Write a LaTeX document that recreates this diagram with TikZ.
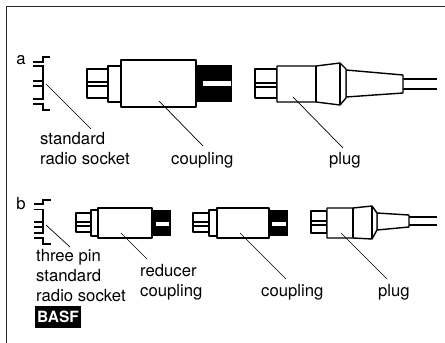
\documentclass[tikz,border=0pt]{standalone}
\usepackage{fontspec}
\setmainfont{TeX Gyre Heros}
\usepackage{xcolor}
\usetikzlibrary{positioning}
\tikzset{
    part/.style={draw=black, line width=1.4pt, fill=white, line join=round},
    wire/.style={draw=black, line width=1.2pt},
    leader/.style={draw=black, line width=0.7pt},
    caption/.style={anchor=base west, inner sep=0pt, font=\fontsize{16.7}{18}\selectfont},
    letter/.style={anchor=base, inner sep=0pt, font=\fontsize{16.7}{18}\selectfont},
}
\begin{document}
\begin{tikzpicture}[x=1pt, y=-1pt]
    \useasboundingbox (0,0) rectangle (445,343);
    \draw[line width=1.3pt, black!85] (6.5,343) -- (6.5,6.5) -- (445,6.5);

    % row a: socket
    \draw[wire] (33,62) -- (43,62) -- (43,57) -- (50,57);
    \draw[wire] (33,66) -- (43,66) -- (43,99) -- (33,99);
    \draw[wire] (33,81) -- (43,81);
    \draw[wire] (33,86) -- (43,86);
    \draw[wire] (33,104) -- (43,104) -- (43,110) -- (50,110);

    % row a: coupling
    \draw[part] (87,69) rectangle (108,98);
    \draw[part] (87,82) rectangle (108,86);
    \draw[part] (108,66) rectangle (121,102);
    \fill[black] (196,65) rectangle (232,102);
    \fill[white] (203,81) rectangle (231,86);
    \draw[part] (121,60) rectangle (196,107);

    % row a: plug
    \draw[part] (255,69) rectangle (277,98);
    \draw[part] (255,83) rectangle (277,87);
    \draw[wire] (403,79) -- (437,79);
    \draw[wire] (403,89) -- (437,89);
    \draw[part] (346,70) -- (403,75) -- (403,93) -- (346,97) -- cycle;
    \draw[part] (277,66) -- (316,66) -- (340,63) -- (346,69) -- (346,98) -- (340,105) -- (316,102) -- (277,102) -- cycle;
    \draw[part] (316,66) -- (316,102);
    \draw[part] (340,63) -- (340,105);

    % row b: socket
    \draw[wire] (34,204) -- (43,204) -- (43,200) -- (51,200);
    \draw[wire] (34,209.5) -- (43,209.5) -- (43,233) -- (34,233);
    \draw[wire] (34,222) -- (43,222);
    \draw[wire] (34,227) -- (43,227);
    \draw[wire] (34,238) -- (43,238) -- (43,244) -- (51,244);

    % row b: reducer coupling
    \draw[part] (76,213) rectangle (91,232);
    \draw[part] (76,222) rectangle (91,226);
    \draw[part] (91,210) rectangle (98,236);
    \fill[black] (152,210) rectangle (171,236);
    \fill[white] (156,222) rectangle (169,226);
    \draw[part] (98,208) rectangle (152,238);

    % row b: coupling
    \draw[part] (193,213) rectangle (209,232);
    \draw[part] (193,222) rectangle (209,226);
    \draw[part] (209,210) rectangle (217,236);
    \fill[black] (269,210) rectangle (288,236);
    \fill[white] (272,222) rectangle (286,226);
    \draw[part] (217,208) rectangle (269,238);

    % row b: plug
    \draw[part] (311,211) rectangle (327,233);
    \draw[part] (311,221) rectangle (327,225);
    \draw[wire] (409,217) -- (437,217);
    \draw[wire] (409,225) -- (437,225);
    \draw[part] (377,213) -- (409,215) -- (409,227) -- (377,230) -- cycle;
    \draw[part] (327,208) -- (353,208) -- (372,206) -- (377,213) -- (377,230) -- (372,239) -- (353,238) -- (327,238) -- cycle;
    \draw[part] (353,208) -- (353,238);
    \draw[part] (372,206) -- (372,239);

    % labels
    \node (rowa) [letter] at (21,64) {a};
    \node (rowb) [letter] at (21,209) {b};
    \node (socketa) [caption] at (40,144) {standard};
    \node (socketb) [caption] at (40,164) {radio socket};
    \node (couplinga) [caption] at (171,164) {coupling};
    \node (pluga) [caption] at (329,164) {plug};
    \node (threepin) [caption] at (36,261) {three pin};
    \node (standardb) [caption] at (36,281) {standard};
    \node (radiob) [caption] at (36,301) {radio socket};
    \node (reducer) [caption] at (140,276) {reducer};
    \node (reducerb) [caption] at (140,296) {coupling};
    \node (couplingb) [caption] at (261,296) {coupling};
    \node (plugb) [caption] at (378,296) {plug};
    \node (basf) [fill=black, text=white, inner sep=0pt, minimum width=46pt, minimum height=22pt,
        font=\fontsize{15.5}{18}\selectfont\bfseries] at (58,317) {BASF};

    % leaders
    \coordinate (socketaTip) at (46,84);
    \coordinate (socketaEnd) at (91,129);
    \coordinate (couplingaTip) at (159,101);
    \coordinate (couplingaEnd) at (203,146);
    \coordinate (plugaTip) at (293,97);
    \coordinate (plugaEnd) at (343,148);
    \coordinate (socketbTip) at (46,225);
    \coordinate (socketbEnd) at (70,247);
    \coordinate (reducerTip) at (121,233);
    \coordinate (reducerEnd) at (147,259);
    \coordinate (couplingbTip) at (240,233);
    \coordinate (couplingbEnd) at (286,279);
    \coordinate (plugbTip) at (341,233);
    \coordinate (plugbEnd) at (387,279);
    \draw[leader] (socketaTip) -- (socketaEnd);
    \draw[leader] (couplingaTip) -- (couplingaEnd);
    \draw[leader] (plugaTip) -- (plugaEnd);
    \draw[leader] (socketbTip) -- (socketbEnd);
    \draw[leader] (reducerTip) -- (reducerEnd);
    \draw[leader] (couplingbTip) -- (couplingbEnd);
    \draw[leader] (plugbTip) -- (plugbEnd);
\end{tikzpicture}
\end{document}
